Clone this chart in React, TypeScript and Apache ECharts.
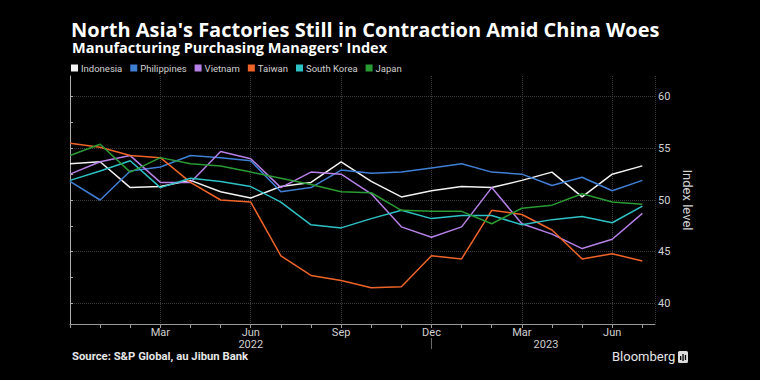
import React, { useEffect, useRef } from "react";
import * as echarts from "echarts";

// Months from Dec 2021 to Jul 2023
const months = [
  "Dec 2021", "Jan 2022", "Feb 2022", "Mar 2022", "Apr 2022", "May 2022", "Jun 2022",
  "Jul 2022", "Aug 2022", "Sep 2022", "Oct 2022", "Nov 2022", "Dec 2022",
  "Jan 2023", "Feb 2023", "Mar 2023", "Apr 2023", "May 2023", "Jun 2023", "Jul 2023",
];
const monthTickLabels = ["Mar", "Jun", "Sep", "Dec", "Mar", "Jun"];
const monthTickIndex = [3, 6, 9, 12, 15, 18];
const yearLabels = ["2022", "2023"];
const yearLabelIndex = [6, 15.8];
const yearSeparatorIndex = [12];
const yTickLabels = [40, 45, 50, 55, 60];
const yMinorTicks = [40, 42.5, 45, 47.5, 50, 52.5, 55, 57.5, 60];

const indonesia = [53.5, 53.7, 51.2, 51.3, 51.9, 50.8, 50.2, 51.3, 51.7, 53.7, 51.8, 50.3, 50.9, 51.3, 51.2, 51.9, 52.7, 50.3, 52.5, 53.3];
const philippines = [51.8, 50.0, 52.8, 53.2, 54.3, 54.1, 53.8, 50.8, 51.2, 52.9, 52.6, 52.7, 53.1, 53.5, 52.7, 52.5, 51.4, 52.2, 50.9, 51.9];
const vietnam = [52.5, 53.7, 54.3, 51.7, 51.7, 54.7, 54.0, 51.2, 52.7, 52.5, 50.6, 47.4, 46.4, 47.4, 51.2, 47.7, 46.7, 45.3, 46.2, 48.7];
const taiwan = [55.5, 55.1, 54.3, 54.1, 51.7, 50.0, 49.8, 44.6, 42.7, 42.2, 41.5, 41.6, 44.6, 44.3, 49.0, 48.6, 47.1, 44.3, 44.8, 44.1];
const southKorea = [51.9, 52.8, 53.8, 51.2, 52.1, 51.8, 51.3, 49.8, 47.6, 47.3, 48.2, 49.0, 48.2, 48.5, 48.5, 47.6, 48.1, 48.4, 47.8, 49.4];
const japan = [54.3, 55.4, 52.7, 54.1, 53.5, 53.3, 52.7, 52.1, 51.5, 50.8, 50.7, 49.0, 48.9, 48.9, 47.7, 49.2, 49.5, 50.6, 49.8, 49.6];

const seriesNames = ["Indonesia", "Philippines", "Vietnam", "Taiwan", "South Korea", "Japan"];
const seriesValues = [indonesia, philippines, vietnam, taiwan, southKorea, japan];
const seriesColors = ["#f2f2f2", "#3f7fd4", "#b680e6", "#ee6428", "#2ec2c4", "#2a9a32"];

const X_MAX = 19.42;
const FONT = "Roboto, 'Liberation Sans', Arial, sans-serif";
const TITLE_FONT = "'Open Sans', Roboto, Arial, sans-serif";

export default function App() {
  const ref = useRef<HTMLDivElement>(null);

  useEffect(() => {
    document.body.style.margin = "0";
    document.body.style.background = "#000";
    if (!ref.current) return;
    const chart = echarts.init(ref.current, null, { renderer: "svg" });

    const series = seriesNames.map((name, k) => ({
      name,
      type: "line",
      xAxisIndex: 0,
      yAxisIndex: 0,
      symbol: "none",
      data: seriesValues[k].map((v, i) => [i, v]),
      lineStyle: { width: 1.5, color: seriesColors[k] },
      itemStyle: { color: seriesColors[k] },
    }));

    chart.setOption({
      animation: false,
      backgroundColor: "#000000",
      textStyle: { fontFamily: FONT },
      grid: { left: 70, right: 105, top: 76, bottom: 56, containLabel: false },
      legend: {
        data: seriesNames,
        left: 71,
        top: 63,
        icon: "rect",
        itemWidth: 7,
        itemHeight: 7,
        itemGap: 8,
        padding: 0,
        textStyle: { color: "#d0d0d0", fontSize: 9.5, fontFamily: FONT, padding: [0, 0, 0, -2] },
      },
      xAxis: [
        {
          type: "value",
          min: 0,
          max: X_MAX,
          position: "bottom",
          axisLine: { show: true, lineStyle: { color: "#9a9a9a", width: 1 } },
          axisTick: {
            show: true,
            customValues: months.map((_, i) => i),
            length: 4,
            lineStyle: { color: "#9a9a9a" },
          },
          axisLabel: {
            customValues: monthTickIndex,
            formatter: (v: number) => monthTickLabels[monthTickIndex.indexOf(v)] ?? "",
            color: "#cfcfcf",
            fontSize: 11,
            margin: 3,
            fontFamily: FONT,
          },
          splitLine: { show: false },
        },
        {
          type: "value",
          min: 0,
          max: X_MAX,
          interval: 3,
          position: "top",
          axisLine: { show: false },
          axisTick: { show: false },
          axisLabel: { show: false },
          splitLine: { show: true, lineStyle: { color: "#3c3c3c", type: "dotted", width: 1 } },
        },
        {
          type: "value",
          min: 0,
          max: X_MAX,
          position: "bottom",
          offset: 14,
          axisLine: { show: false },
          axisTick: {
            show: true,
            customValues: yearSeparatorIndex,
            length: 11,
            lineStyle: { color: "#6a6a6a" },
          },
          axisLabel: {
            customValues: yearLabelIndex,
            formatter: (v: number) => yearLabels[yearLabelIndex.indexOf(v)] ?? "",
            color: "#cfcfcf",
            fontSize: 11,
            margin: 1,
            fontFamily: FONT,
          },
          splitLine: { show: false },
        },
      ],
      yAxis: [
        {
          type: "value",
          position: "right",
          min: 38,
          max: 62,
          axisLine: { show: true, lineStyle: { color: "#b0b0b0", width: 1 } },
          axisTick: { show: true, customValues: yMinorTicks, length: 3, lineStyle: { color: "#b0b0b0" } },
          axisLabel: { customValues: yTickLabels, color: "#cfcfcf", fontSize: 11, margin: 3, fontFamily: FONT },
          splitLine: { show: false },
          name: "Index level",
          nameLocation: "middle",
          nameRotate: -90,
          nameGap: 16,
          nameTextStyle: { color: "#d0d0d0", fontSize: 13, fontFamily: FONT },
        },
        {
          type: "value",
          position: "left",
          min: 38,
          max: 62,
          axisLine: { show: false },
          axisTick: { show: false, customValues: yTickLabels },
          axisLabel: { show: false },
          splitLine: { show: true, lineStyle: { color: "#3c3c3c", type: "dotted", width: 1 } },
        },
      ],
      series,
      graphic: [
        {
          type: "text",
          left: 71,
          top: 19,
          style: {
            text: "North Asia's Factories Still in Contraction Amid China Woes",
            fill: "#ffffff",
            font: `bold 20px ${TITLE_FONT}`,
            lineHeight: 20,
          },
        },
        {
          type: "text",
          left: 72,
          top: 40,
          style: {
            text: "Manufacturing Purchasing Managers' Index",
            fill: "#ffffff",
            font: `bold 14.5px ${TITLE_FONT}`,
            lineHeight: 15,
          },
        },
        {
          type: "text",
          left: 72,
          top: 351,
          style: {
            text: "Source: S&P Global, au Jibun Bank",
            fill: "#e6e6e6",
            font: `bold 11.3px ${FONT}`,
          },
        },
        {
          type: "text",
          left: 612,
          top: 350,
          style: {
            text: "Bloomberg",
            fill: "#e6e6e6",
            font: `13px ${FONT}`,
          },
        },
        {
          type: "group",
          left: 678,
          top: 351,
          children: [
            { type: "rect", shape: { x: 0, y: 0, width: 10, height: 12, r: 1.5 }, style: { fill: "#dcdcdc" } },
            { type: "rect", shape: { x: 2, y: 5, width: 1.3, height: 4 }, style: { fill: "#000" } },
            { type: "rect", shape: { x: 4.4, y: 3, width: 1.3, height: 7 }, style: { fill: "#000" } },
            { type: "rect", shape: { x: 6.8, y: 4, width: 1.3, height: 5 }, style: { fill: "#000" } },
          ],
        },
      ],
    });

    return () => chart.dispose();
  }, []);

  return <div ref={ref} style={{ width: 760, height: 380 }} />;
}
